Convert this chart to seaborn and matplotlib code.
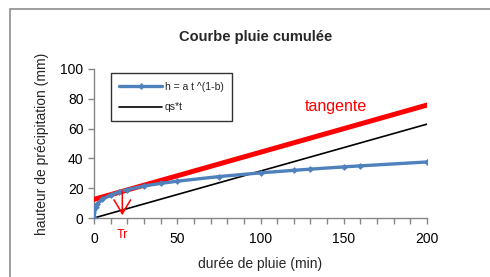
import numpy as np
import pandas as pd
import matplotlib
matplotlib.use("Agg")
import matplotlib.pyplot as plt
from matplotlib.ticker import MultipleLocator
from matplotlib.patches import Rectangle
import seaborn as sns

# cumulative rain curve h = a t^(1-b)
t_min = [0, 1, 2, 5, 10, 15, 20, 30, 40, 50, 75, 100, 120, 130, 150, 160, 200]
h_mm = [0, 7.5, 9.5, 12.5, 15.5, 17.5, 19.0, 21.5, 23.2, 24.7, 27.8, 30.3, 32.0, 32.8, 34.3, 35.0, 37.6]

# qs*t line
qs_t = [0, 200]
qs_h = [0, 63]

# tangent line
tan_t = [0, 200]
tan_h = [12.5, 75.8]

# Tr arrow
tr_t = 17
tr_top = 20

sns.set_style("white")
plt.rcParams["font.family"] = ["Liberation Sans", "DejaVu Sans"]

fig = plt.figure(figsize=(4.9, 2.77), dpi=100)
# outer chart frame
fig.patches.append(Rectangle((10 / 490, -0.1), 1.2, 0.9675 + 0.1, transform=fig.transFigure,
                             fill=False, edgecolor="#8c8c8c", linewidth=1.2))
ax = fig.add_axes([94 / 490, 1 - 218 / 277, 333 / 490, 149 / 277])

curve = pd.DataFrame({"t": t_min, "h": h_mm})
line = pd.DataFrame({"t": qs_t, "h": qs_h})
tang = pd.DataFrame({"t": tan_t, "h": tan_h})

sns.lineplot(data=tang, x="t", y="h", ax=ax, color="#ff0000", linewidth=3.6, zorder=3)
sns.lineplot(data=line, x="t", y="h", ax=ax, color="black", linewidth=1.2, label="qs*t", zorder=2)
sns.lineplot(data=curve, x="t", y="h", ax=ax, color="#4f81bd", linewidth=2.4, marker="D",
             markersize=3.5, markeredgewidth=0, label="h = a t ^(1-b)", zorder=4)

ax.annotate("", xy=(tr_t, 0), xytext=(tr_t, tr_top),
            arrowprops=dict(arrowstyle="->,head_length=1.0,head_width=0.6", color="#ff0000", lw=1.1),
            zorder=5)
ax.text(tr_t, -7.5, "Tr", color="#ff0000", ha="center", va="top", fontsize=9, clip_on=False)
ax.text(145, 75, "tangente", color="#ff0000", ha="center", va="center", fontsize=11.5)

ax.set_xlim(0, 200)
ax.set_ylim(0, 100)
ax.xaxis.set_major_locator(MultipleLocator(50))
ax.xaxis.set_minor_locator(MultipleLocator(10))
ax.yaxis.set_major_locator(MultipleLocator(20))
for s in ["top", "right"]:
    ax.spines[s].set_visible(False)
for s in ["left", "bottom"]:
    ax.spines[s].set_color("#868686")
    ax.spines[s].set_linewidth(1.0)
ax.tick_params(axis="both", which="both", direction="out", color="#868686", length=4, width=1,
               labelsize=10, colors="#868686", labelcolor="black")
ax.tick_params(axis="x", which="both", bottom=True)
ax.tick_params(axis="y", left=True)
ax.tick_params(axis="x", pad=6)

ax.set_xlabel("durée de pluie (min)", fontsize=10, labelpad=8)
ax.set_ylabel("hauteur de précipitation (mm)", fontsize=10, labelpad=8)
fig.text(256 / 490, 1 - 37 / 277, "Courbe pluie cumulée", fontsize=10.5, fontweight="bold",
         ha="center", va="center")

handles, labels = ax.get_legend_handles_labels()
leg = ax.legend(handles[::-1], labels[::-1], loc="upper left", bbox_to_anchor=(0.035, 1.005),
                fontsize=7.5, frameon=True, fancybox=False, edgecolor="black",
                handlelength=4.1, handletextpad=0.3, borderpad=0.8, labelspacing=1.0)
leg.get_frame().set_linewidth(1.0)

fig.savefig("out.png", dpi=100)
